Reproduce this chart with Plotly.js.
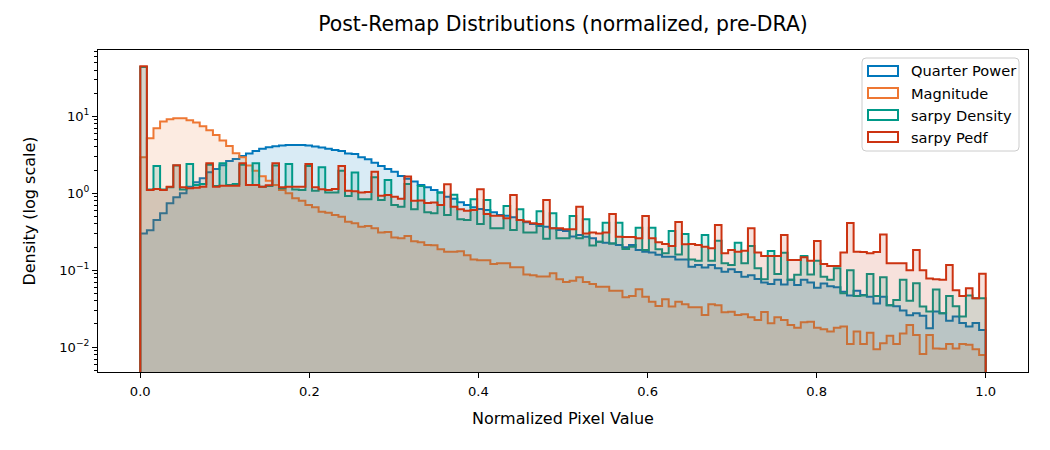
<!DOCTYPE html>
<html>
<head>
<meta charset="utf-8">
<script src="https://cdn.plot.ly/plotly-3.0.1.min.js"></script>
<style>
  html, body { margin: 0; padding: 0; background: #ffffff; overflow: hidden; }
  #chart { width: 1050px; height: 450px; }
</style>
</head>
<body>
<div id="chart"></div>
<script>
// Histogram densities over 128 equal bins spanning [0, 1]
const binCount = 128;
const binStart = 0;
const binEnd = 1;

const seriesNames = ["Quarter Power", "Magnitude", "sarpy Density", "sarpy Pedf"];

const quarterPower = [
  0.30, 0.33, 0.45, 0.55, 0.74, 0.885, 1.0, 1.22, 1.39, 1.57,
  1.87, 2.07, 2.31, 2.63, 2.79, 3.05, 3.3, 3.55, 3.8, 3.96,
  4.08, 4.17, 4.25, 4.25, 4.25, 4.17, 4.05, 3.93, 3.78, 3.66,
  3.55, 3.3, 3.25, 2.94, 2.77, 2.5, 2.26, 2.07, 1.91, 1.68,
  1.54, 1.42, 1.28, 1.20, 1.10, 1.02, 0.904, 0.85, 0.763, 0.705,
  0.657, 0.625, 0.607, 0.566, 0.522, 0.512, 0.486, 0.45, 0.419, 0.40,
  0.376, 0.368, 0.35, 0.333, 0.324, 0.275, 0.287, 0.273, 0.26, 0.235,
  0.228, 0.223, 0.213, 0.198, 0.213, 0.183, 0.174, 0.17, 0.159, 0.15,
  0.15, 0.138, 0.138, 0.111, 0.117, 0.108, 0.117, 0.106, 0.0957, 0.103,
  0.0947, 0.0824, 0.0857, 0.0769, 0.0689, 0.0662, 0.075, 0.065, 0.075, 0.064,
  0.075, 0.069, 0.059, 0.067, 0.062, 0.06, 0.0526, 0.0467, 0.054, 0.0476,
  0.045, 0.037, 0.045, 0.035, 0.034, 0.030, 0.026, 0.0275, 0.0255, 0.0176,
  0.029, 0.0275, 0.022, 0.025, 0.0206, 0.0185, 0.0206, 0.0167
];

const magnitude = [
  2.94, 5.19, 7.0, 8.55, 9.16, 9.44, 9.44, 8.9, 8.3, 7.43,
  6.6, 5.74, 4.84, 4.13, 3.31, 2.94, 2.29, 1.97, 1.66, 1.46,
  1.28, 1.10, 1.0, 0.86, 0.80, 0.705, 0.657, 0.577, 0.56, 0.522,
  0.497, 0.427, 0.407, 0.368, 0.375, 0.35, 0.308, 0.313, 0.267, 0.26,
  0.278, 0.237, 0.23, 0.213, 0.211, 0.187, 0.173, 0.173, 0.176, 0.156,
  0.138, 0.135, 0.135, 0.12, 0.123, 0.123, 0.109, 0.109, 0.088, 0.086,
  0.083, 0.083, 0.091, 0.076, 0.0703, 0.073, 0.0807, 0.0703, 0.066, 0.061,
  0.061, 0.0542, 0.0542, 0.0444, 0.046, 0.0564, 0.0452, 0.039, 0.0343, 0.042,
  0.0336, 0.039, 0.036, 0.033, 0.033, 0.0262, 0.036, 0.035, 0.0283, 0.0289,
  0.0262, 0.0267, 0.0244, 0.0225, 0.0286, 0.0204, 0.0244, 0.0225, 0.0194, 0.0179,
  0.021, 0.0214, 0.0179, 0.017, 0.0159, 0.0179, 0.0185, 0.011, 0.0159, 0.011,
  0.0154, 0.0094, 0.0112, 0.014, 0.011, 0.015, 0.0194, 0.0144, 0.0081, 0.0144,
  0.0096, 0.0095, 0.011, 0.0096, 0.011, 0.0107, 0.0094, 0.0079
];

const sarpyDensity = [
  44, 1.12, 2.26, 1.12, 1.20, 2.3, 1.12, 2.4, 1.28, 1.32,
  2.35, 1.24, 2.45, 1.28, 1.32, 2.35, 1.28, 2.45, 1.22, 1.24,
  2.3, 1.16, 2.4, 1.12, 1.10, 2.26, 1.08, 2.18, 1.02, 1.02,
  1.97, 0.925, 1.86, 0.836, 0.836, 1.62, 0.82, 1.49, 0.705, 0.67,
  1.32, 0.62, 1.24, 0.566, 0.55, 1.02, 0.52, 0.955, 0.46, 0.45,
  0.836, 0.40, 0.82, 0.35, 0.35, 0.684, 0.333, 0.62, 0.308, 0.308,
  0.583, 0.257, 0.55, 0.26, 0.26, 0.507, 0.26, 0.46, 0.21, 0.235,
  0.415, 0.223, 0.415, 0.189, 0.202, 0.357, 0.183, 0.357, 0.187, 0.166,
  0.323, 0.16, 0.295, 0.138, 0.133, 0.287, 0.133, 0.242, 0.123, 0.117,
  0.228, 0.123, 0.206, 0.106, 0.076, 0.178, 0.089, 0.169, 0.075, 0.087,
  0.153, 0.088, 0.133, 0.082, 0.075, 0.106, 0.050, 0.10, 0.046, 0.047,
  0.089, 0.046, 0.081, 0.035, 0.041, 0.075, 0.04, 0.0675, 0.0336, 0.029,
  0.056, 0.0275, 0.046, 0.034, 0.025, 0.047, 0.043, 0.043
];

const sarpyPedf = [
  45, 1.10, 1.14, 1.10, 1.22, 2.31, 1.20, 1.16, 1.18, 1.22,
  2.45, 1.22, 1.25, 1.25, 1.25, 2.45, 1.28, 1.28, 1.22, 1.27,
  2.45, 1.20, 1.22, 1.22, 1.22, 2.4, 1.20, 1.13, 1.10, 1.14,
  2.26, 1.08, 1.06, 1.02, 1.04, 1.91, 0.93, 0.95, 0.90, 0.85,
  1.65, 0.80, 0.805, 0.75, 0.76, 0.705, 1.31, 0.67, 0.62, 0.594,
  0.607, 1.13, 0.537, 0.512, 0.512, 0.473, 0.95, 0.45, 0.43, 0.407,
  0.40, 0.82, 0.35, 0.35, 0.34, 0.34, 0.67, 0.30, 0.308, 0.30,
  0.31, 0.537, 0.273, 0.27, 0.27, 0.26, 0.507, 0.26, 0.23, 0.219,
  0.206, 0.423, 0.217, 0.219, 0.213, 0.202, 0.193, 0.387, 0.166, 0.183,
  0.174, 0.179, 0.35, 0.17, 0.153, 0.153, 0.153, 0.287, 0.136, 0.136,
  0.147, 0.133, 0.24, 0.12, 0.113, 0.113, 0.17, 0.41, 0.174, 0.172,
  0.166, 0.172, 0.292, 0.123, 0.123, 0.123, 0.10, 0.183, 0.10, 0.078,
  0.076, 0.075, 0.117, 0.055, 0.046, 0.058, 0.043, 0.09
];

const seriesValues = [quarterPower, magnitude, sarpyDensity, sarpyPedf];
const seriesColors = ["#0077BB", "#EE7733", "#009988", "#CC3311"];
const seriesFills = [
  "rgba(0,119,187,0.15)",
  "rgba(238,119,51,0.15)",
  "rgba(0,153,136,0.15)",
  "rgba(204,51,17,0.15)"
];

// Outline path of a step histogram: rises from below the axis at the first
// edge, walks across the bins, and drops back down at the last edge.
const belowAxis = 1e-4;
function stepOutline(values) {
  const width = (binEnd - binStart) / values.length;
  const xs = [binStart];
  const ys = [belowAxis];
  values.forEach((v, k) => { xs.push(binStart + k * width); ys.push(v); });
  xs.push(binEnd); ys.push(values[values.length - 1]);
  xs.push(binEnd); ys.push(belowAxis);
  return { xs, ys };
}

const traces = seriesValues.map((vals, i) => {
  const path = stepOutline(vals);
  return {
    type: "scatter",
    mode: "lines",
    name: seriesNames[i],
    x: path.xs,
    y: path.ys,
    line: { shape: "hv", color: seriesColors[i], width: 2 },
    fill: "toself",
    fillcolor: seriesFills[i],
    hoverinfo: "skip",
    showlegend: false
  };
});

const decadeTicks = [0.01, 0.1, 1, 10];
const decadeLabels = ["10<sup>\u22122</sup>", "10<sup>\u22121</sup>", "10<sup>0</sup>", "10<sup>1</sup>"];
const minorTicks = [];
[0.001, 0.01, 0.1, 1, 10].forEach(d => {
  for (let m = 2; m <= 9; m++) minorTicks.push(d * m);
});

// Figure geometry (pixels)
const W = 1050, H = 450;
const M = { l: 98, r: 22, t: 50, b: 78 };
const plotW = W - M.l - M.r;
const plotH = H - M.t - M.b;
const px = x => (x - M.l) / plotW;          // pixel column -> paper x
const py = y => 1 - (y - M.t) / plotH;       // pixel row -> paper y

// Legend box with rounded corners, outlined patches and labels
const legendBox = { x0: 862, x1: 1019, y0: 58, y1: 151, r: 4 };
const legendRows = [71, 93, 115, 137];
const patchX0 = 868, patchX1 = 898, patchH = 10;
const labelX = 909;

function roundedRectPath(b) {
  const rx = b.r / plotW, ry = b.r / plotH;
  const L = px(b.x0), R = px(b.x1), T = py(b.y0), B = py(b.y1);
  return `M${L + rx},${T} L${R - rx},${T} Q${R},${T} ${R},${T - ry} ` +
         `L${R},${B + ry} Q${R},${B} ${R - rx},${B} L${L + rx},${B} ` +
         `Q${L},${B} ${L},${B + ry} L${L},${T - ry} Q${L},${T} ${L + rx},${T} Z`;
}

const font = "DejaVu Sans, Verdana, sans-serif";

const shapes = [{
  type: "path", xref: "paper", yref: "paper",
  path: roundedRectPath(legendBox),
  fillcolor: "rgba(255,255,255,0.8)",
  line: { color: "#cccccc", width: 1 }
}];
const annotations = [];
seriesNames.forEach((name, i) => {
  const yc = legendRows[i];
  shapes.push({
    type: "rect", xref: "paper", yref: "paper",
    x0: px(patchX0), x1: px(patchX1),
    y0: py(yc + patchH / 2), y1: py(yc - patchH / 2),
    fillcolor: "rgba(255,255,255,0)",
    line: { color: seriesColors[i], width: 2 }
  });
  annotations.push({
    xref: "paper", yref: "paper",
    x: px(labelX), y: py(yc),
    xanchor: "left", yanchor: "middle",
    text: name, showarrow: false,
    font: { family: font, size: 14.6, color: "#000000" }
  });
});

const layout = {
  width: W,
  height: H,
  paper_bgcolor: "#ffffff",
  plot_bgcolor: "#ffffff",
  margin: { l: M.l, r: M.r, t: M.t, b: M.b, autoexpand: false },
  font: { family: font, color: "#000000", size: 13 },
  title: {
    text: "Post-Remap Distributions (normalized, pre-DRA)",
    font: { family: font, size: 20.4, color: "#000000" },
    xref: "paper", x: 0.5, xanchor: "center",
    yref: "container", y: 1 - 24 / H, yanchor: "middle"
  },
  showlegend: false,
  shapes: shapes,
  annotations: annotations,
  xaxis: {
    range: [-0.05, 1.05],
    tickmode: "linear", tick0: 0, dtick: 0.2, tickformat: ".1f",
    ticks: "outside", ticklen: 5, tickwidth: 1, tickcolor: "#000000",
    ticklabelstandoff: 2,
    tickfont: { family: font, size: 13.1, color: "#000000" },
    showgrid: false, zeroline: false, automargin: false,
    showline: true, mirror: true, linecolor: "#000000", linewidth: 1,
    title: { text: "Normalized Pixel Value", font: { family: font, size: 16, color: "#000000" }, standoff: 15 }
  },
  yaxis: {
    type: "log",
    range: [-2.324, 1.863],
    tickmode: "array", tickvals: decadeTicks, ticktext: decadeLabels,
    ticks: "outside", ticklen: 5, tickwidth: 1, tickcolor: "#000000",
    tickfont: { family: font, size: 13.1, color: "#000000" },
    minor: { tickmode: "array", tickvals: minorTicks, ticks: "outside", ticklen: 3, tickcolor: "#000000" },
    showgrid: false, zeroline: false, automargin: false,
    showline: true, mirror: true, linecolor: "#000000", linewidth: 1,
    title: { text: "Density (log scale)", font: { family: font, size: 16, color: "#000000" }, standoff: 19 }
  }
};

Plotly.newPlot("chart", traces, layout, { displayModeBar: false, staticPlot: true });
</script>
</body>
</html>
